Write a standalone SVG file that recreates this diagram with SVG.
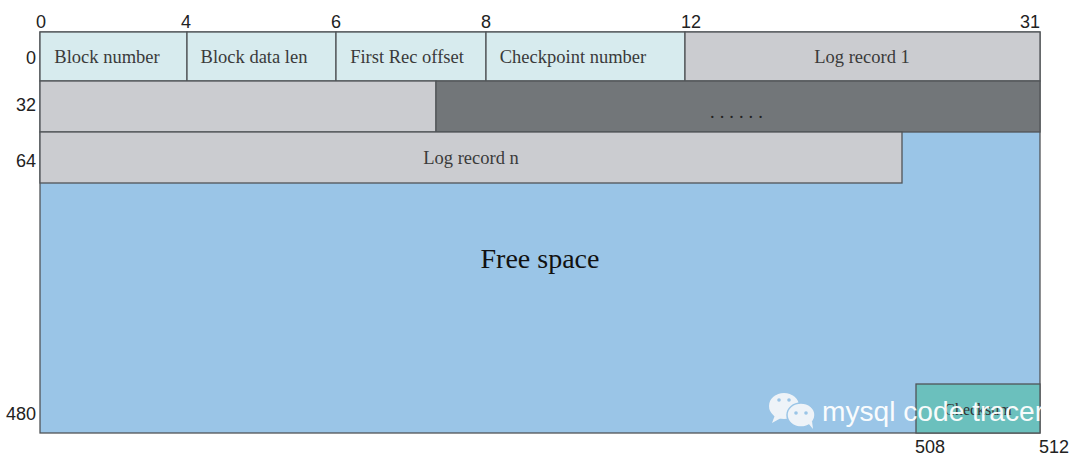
<svg xmlns="http://www.w3.org/2000/svg" width="1080" height="462" viewBox="0 0 1080 462">
<style>
.cell{stroke:#505457;stroke-width:1.3}
.hdr{fill:#d7ebee}
.lg{fill:#cbccd0}
.dg{fill:#727679}
.lbl{font-family:"Liberation Serif",serif;font-size:18.5px;fill:#3a3a3a;text-anchor:middle}
.num{font-family:"Liberation Sans",Arial,sans-serif;font-size:18px;fill:#222}
.wm{font-family:"Liberation Sans",Arial,sans-serif;font-size:28px;fill:#ffffff}
</style>
<rect width="1080" height="462" fill="#ffffff"/>
<g id="free-space">
<rect class="cell" x="40" y="32" width="1000" height="401" fill="#9ac5e7"/>
<text x="540" y="268" class="lbl" style="font-size:28px;fill:#111">Free space</text>
</g>
<g id="block-number"><rect class="cell hdr" x="40" y="32" width="147" height="49"/><text class="lbl" x="107" y="63">Block number</text></g>
<g id="block-data-len"><rect class="cell hdr" x="187" y="32" width="149" height="49"/><text class="lbl" x="254" y="63">Block data len</text></g>
<g id="first-rec-offset"><rect class="cell hdr" x="336" y="32" width="150" height="49"/><text class="lbl" x="407" y="63">First Rec offset</text></g>
<g id="checkpoint-number"><rect class="cell hdr" x="486" y="32" width="199" height="49"/><text class="lbl" x="573" y="63">Checkpoint number</text></g>
<g id="log-record-1"><rect class="cell lg" x="685" y="32" width="355" height="49"/><text class="lbl" x="862" y="63">Log record 1</text></g>
<g id="log-record-1-cont"><rect class="cell lg" x="40" y="81" width="396" height="51"/></g>
<g id="ellipsis"><rect class="cell dg" x="436" y="81" width="604" height="51"/><text class="lbl" x="710" y="118" letter-spacing="5" style="fill:#222;text-anchor:start">......</text></g>
<g id="log-record-n"><rect class="cell lg" x="40" y="132" width="862" height="51"/><text class="lbl" x="471" y="164">Log record n</text></g>
<g id="checksum"><rect class="cell" x="916" y="384" width="124" height="49" fill="#6bc0bd"/><text class="lbl" x="978" y="415" style="font-size:16px;fill:#333">Checksum</text></g>
<g id="labels">
<text class="num" x="36" y="28">0</text>
<text class="num" x="181" y="28">4</text>
<text class="num" x="331" y="28">6</text>
<text class="num" x="481" y="28">8</text>
<text class="num" x="681" y="28">12</text>
<text class="num" x="1020" y="28">31</text>
<text class="num" x="36" y="64" text-anchor="end">0</text>
<text class="num" x="36" y="111" text-anchor="end">32</text>
<text class="num" x="36" y="167" text-anchor="end">64</text>
<text class="num" x="36" y="420" text-anchor="end">480</text>
<text class="num" x="915" y="453">508</text>
<text class="num" x="1039" y="453">512</text>
</g>
<g id="watermark" opacity="0.95">
<ellipse cx="784" cy="406" rx="15" ry="13" fill="#f3f6f9"/>
<path d="M775 415 l-3 8 l9 -5 z" fill="#f3f6f9"/>
<ellipse cx="801" cy="415" rx="14" ry="12" fill="#f3f6f9" stroke="#9ac5e7" stroke-width="1.5"/>
<path d="M808 423 l5 6 l-1 -8 z" fill="#f3f6f9"/>
<circle cx="779" cy="400" r="1.8" fill="#9ac5e7"/><circle cx="789" cy="400" r="1.8" fill="#9ac5e7"/>
<circle cx="796" cy="413" r="1.8" fill="#9ac5e7"/><circle cx="806" cy="413" r="1.8" fill="#9ac5e7"/>
<text class="wm" x="822" y="421" textLength="222" lengthAdjust="spacingAndGlyphs">mysql code tracer</text>
</g>
</svg>
